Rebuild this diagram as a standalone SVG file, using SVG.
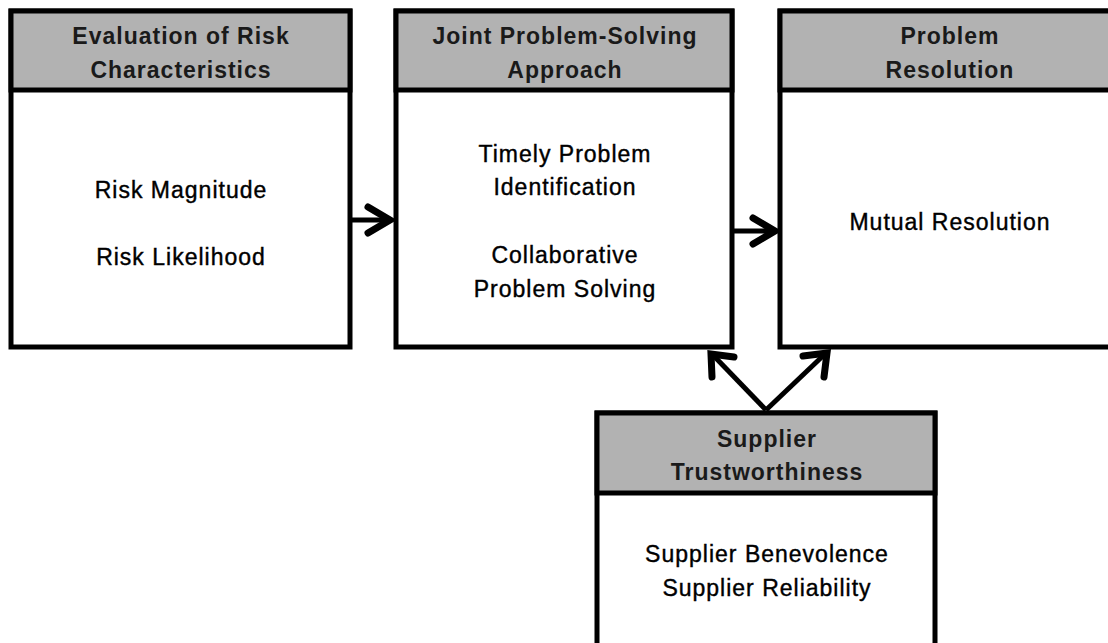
<svg xmlns="http://www.w3.org/2000/svg" width="1108" height="643" viewBox="0 0 1108 643">
<style>
.box{fill:#fff;stroke:#000;stroke-width:5}
.hdr{fill:#b2b2b2;stroke:#000;stroke-width:5}
.ht{font-family:"Liberation Sans",Arial,sans-serif;font-weight:bold;font-size:23px;letter-spacing:1px;fill:#1a1a1a;text-anchor:middle}
.bt{font-family:"Liberation Sans",Arial,sans-serif;font-size:23px;letter-spacing:1px;fill:#000;text-anchor:middle;stroke:#000;stroke-width:0.4}
.ln{fill:none;stroke:#000;stroke-width:5}
.hd{fill:none;stroke:#000;stroke-width:7;stroke-linecap:round;stroke-linejoin:miter}
</style>
<rect width="1108" height="643" fill="#fff"/>
<g id="n1">
<rect class="box" x="11" y="11" width="339" height="336"/>
<rect class="hdr" x="11" y="11" width="339" height="79"/>
<text class="ht" x="181" y="44">Evaluation of Risk</text>
<text class="ht" x="181" y="78">Characteristics</text>
<text class="bt" x="181" y="198">Risk Magnitude</text>
<text class="bt" x="181" y="265">Risk Likelihood</text>
</g>
<g id="n2">
<rect class="box" x="396" y="11" width="336" height="336"/>
<rect class="hdr" x="396" y="11" width="336" height="79"/>
<text class="ht" x="565" y="44">Joint Problem-Solving</text>
<text class="ht" x="565" y="78">Approach</text>
<text class="bt" x="565" y="162">Timely Problem</text>
<text class="bt" x="565" y="195">Identification</text>
<text class="bt" x="565" y="263">Collaborative</text>
<text class="bt" x="565" y="297">Problem Solving</text>
</g>
<g id="n3">
<rect class="box" x="780" y="11" width="340" height="336"/>
<rect class="hdr" x="780" y="11" width="340" height="79"/>
<text class="ht" x="950" y="44">Problem</text>
<text class="ht" x="950" y="78">Resolution</text>
<text class="bt" x="950" y="230">Mutual Resolution</text>
</g>
<g id="n4">
<rect class="box" x="597" y="413" width="338" height="240"/>
<rect class="hdr" x="597" y="413" width="338" height="80"/>
<text class="ht" x="767" y="447">Supplier</text>
<text class="ht" x="767" y="480">Trustworthiness</text>
<text class="bt" x="767" y="562">Supplier Benevolence</text>
<text class="bt" x="767" y="596">Supplier Reliability</text>
</g>
<g id="connectors">
<line class="ln" x1="350" y1="220" x2="390" y2="220"/>
<polyline class="hd" points="368,207 390,220 368,233"/>
<line class="ln" x1="732" y1="231" x2="774" y2="231"/>
<polyline class="hd" points="753,218 775,231 753,244"/>
<line class="ln" x1="766" y1="410" x2="712" y2="354"/>
<polyline class="hd" points="712,377 711,354 734,357"/>
<line class="ln" x1="766" y1="410" x2="826" y2="353"/>
<polyline class="hd" points="803,356 827,353 824,377"/>
</g>
</svg>
